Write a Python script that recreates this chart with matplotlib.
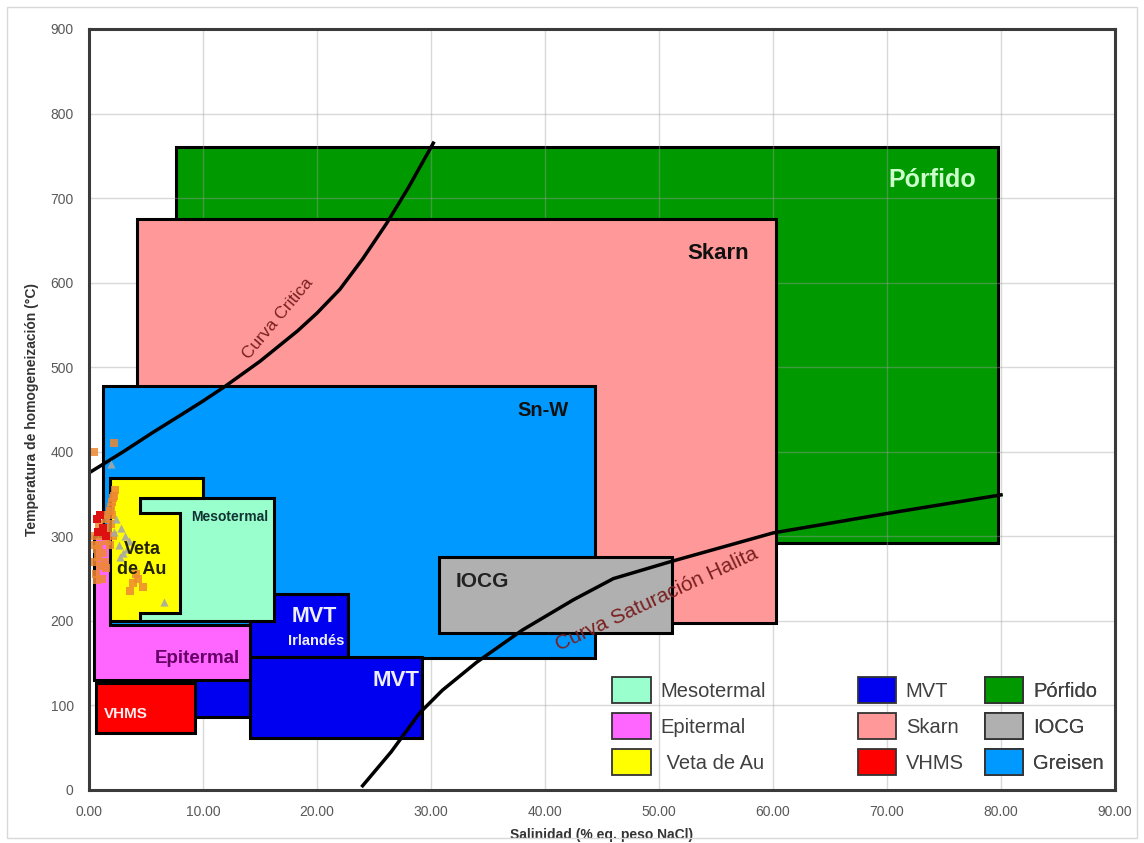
import matplotlib
matplotlib.use('Agg')
import matplotlib.pyplot as plt
from matplotlib.patches import Rectangle, Polygon, Patch
from matplotlib import font_manager

names = {f.name for f in font_manager.fontManager.ttflist}
tick_font = 'Liberation Sans Narrow' if 'Liberation Sans Narrow' in names else 'Liberation Sans'
plt.rcParams['font.family'] = ['Liberation Sans', 'DejaVu Sans']

# deposit fields: (x0, x1, y0, y1) in salinity / temperature
porfido = (7.6, 79.7, 292, 760)
skarn = (4.2, 60.3, 197, 675)
greisen = (1.2, 44.4, 156, 478)
iocg = (30.7, 51.1, 186, 275)
mvt_low = (8.9, 16.0, 86, 160)
mvt_irl = (14.1, 22.7, 157, 232)
mvt = (14.1, 29.2, 61, 157)
mesotermal = (4.5, 16.2, 200, 345)
vhms = (0.6, 9.3, 67, 127)
epitermal_x = [0.4, 14.1, 14.1, 1.8, 1.8, 0.4]
epitermal_y = [130, 130, 195, 195, 300, 300]
veta_x = [1.8, 4.5, 4.5, 8.0, 8.0, 4.5, 4.5, 10.0, 10.0, 1.8]
veta_y = [200, 200, 209, 209, 328, 328, 345, 345, 369, 369]

# curves
critica_x = [0, 3, 5.5, 8, 10, 11.9, 15, 18.3, 20, 22, 24, 26.1, 28, 30.2]
critica_y = [375, 400, 422, 443, 460, 477, 507, 543, 564, 592, 628, 670, 712, 765]
halita_x = [24, 26.5, 29, 31, 34, 38, 42.5, 46, 51, 60, 70, 80]
halita_y = [5, 45, 91, 118, 151, 189, 225, 250, 270, 304, 327, 349]

# fluid inclusion data
orange_x = [0.4, 2.2, 2.3, 2.0, 2.2, 1.9, 1.8, 1.5, 1.3, 1.1, 0.9, 1.6, 1.2, 0.8, 1.0, 1.4,
            2.1, 1.7, 0.7, 0.5, 0.6, 1.9, 2.0, 1.3, 0.9, 0.4, 0.5, 1.5, 1.1, 0.7, 1.8, 2.1,
            3.9, 4.3, 4.7, 3.6, 4.1]
orange_y = [400, 410, 355, 340, 348, 335, 330, 320, 310, 300, 290, 295, 280, 275, 265, 270,
            345, 305, 285, 270, 255, 315, 325, 325, 315, 290, 300, 262, 250, 248, 290, 300,
            245, 250, 240, 235, 255]
gray_x = [1.9, 2.4, 2.8, 3.2, 2.6, 3.0, 3.5, 2.2, 2.7, 3.3, 6.6]
gray_y = [386, 320, 310, 300, 290, 280, 295, 305, 275, 285, 222]
red_x = [0.7, 1.0, 1.2, 1.5, 0.8]
red_y = [320, 325, 310, 300, 305]

xticks = [0, 10, 20, 30, 40, 50, 60, 70, 80, 90]
yticks = [0, 100, 200, 300, 400, 500, 600, 700, 800, 900]

colors = {
    'Pórfido': '#009900', 'Skarn': '#FF9999', 'Greisen': '#0099FF',
    'IOCG': '#B0B0B0', 'MVT': '#0000F0', 'Mesotermal': '#99FFCC',
    'Epitermal': '#FF66FF', 'VHMS': '#FF0000', 'Veta de Au': '#FFFF00',
}

fig = plt.figure(figsize=(11.44, 8.43), dpi=100)
ax = fig.add_axes([0.0778, 0.0629, 0.8969, 0.9027])
fig.patches.append(Rectangle((0.006, 0.006), 0.988, 0.986, transform=fig.transFigure,
                             fill=False, edgecolor='#D9D9D9', linewidth=1))


def box(b, color, z):
    ax.add_patch(Rectangle((b[0], b[2]), b[1] - b[0], b[3] - b[2], facecolor=color,
                           edgecolor='black', linewidth=2.2, zorder=z))


box(porfido, colors['Pórfido'], 2)
box(skarn, colors['Skarn'], 3)
box(greisen, colors['Greisen'], 4)
box(iocg, colors['IOCG'], 5)
box(mvt_low, colors['MVT'], 5)
box(mvt_irl, colors['MVT'], 6)
box(mvt, colors['MVT'], 6)
box(mesotermal, colors['Mesotermal'], 7)
ax.add_patch(Polygon(list(zip(epitermal_x, epitermal_y)), closed=True, facecolor=colors['Epitermal'],
                     edgecolor='black', linewidth=2.2, zorder=7))
box(vhms, colors['VHMS'], 8)
ax.add_patch(Polygon(list(zip(veta_x, veta_y)), closed=True, facecolor=colors['Veta de Au'],
                     edgecolor='black', linewidth=2.2, zorder=8))

ax.plot(critica_x, critica_y, color='black', linewidth=2.5, zorder=10, solid_joinstyle='round')
ax.plot(halita_x, halita_y, color='black', linewidth=2.5, zorder=10, solid_joinstyle='round')

ax.scatter(orange_x, orange_y, marker='s', s=30, color='#EE8833', alpha=0.85, linewidths=0, zorder=11)
ax.scatter(gray_x, gray_y, marker='^', s=35, color='#A8A8A8', alpha=0.9, linewidths=0, zorder=11)
ax.scatter(red_x, red_y, marker='s', s=30, color='#DD1111', linewidths=0, zorder=11)

# field labels
bold = dict(fontweight='bold', ha='center', va='center', zorder=12)
ax.text(74.0, 721, 'Pórfido', fontsize=18, color='#CCFFCC', **bold)
ax.text(55.2, 635, 'Skarn', fontsize=16, color='#111111', **bold)
ax.text(39.8, 449, 'Sn-W', fontsize=14.5, color='#111111', **bold)
ax.text(34.5, 246, 'IOCG', fontsize=15, color='#222222', **bold)
ax.text(19.8, 205, 'MVT', fontsize=15.5, color='#EEEEFF', **bold)
ax.text(19.9, 176, 'Irlandés', fontsize=10.5, color='#EEEEFF', **bold)
ax.text(26.9, 129, 'MVT', fontsize=16, color='#EEEEFF', **bold)
ax.text(9.5, 155, 'Epitermal', fontsize=13.5, color='#660066', **bold)
ax.text(3.2, 90, 'VHMS', fontsize=11, color='#FFEEEE', **bold)
ax.text(12.3, 323, 'Mesotermal', fontsize=10, color='#113333', **bold)
ax.text(4.65, 273, 'Veta\nde Au', fontsize=13, color='#222200', linespacing=1.25, **bold)

ax.text(16.6, 557, 'Curva Critica', fontsize=12.5, color='#7A2020', rotation=50,
        ha='center', va='center', zorder=12)
ax.text(49.8, 225, 'Curva Saturación Halita', fontsize=15, color='#7A2020', rotation=25,
        ha='center', va='center', zorder=12)

# legend in three columns
def legend(labels, x, pads):
    handles = [Patch(facecolor=colors[l], edgecolor='#333333', linewidth=1.3) for l in labels]
    leg = ax.legend(handles, [p + l for l, p in zip(labels, pads)], loc='upper left',
                    bbox_to_anchor=(x, 0.1485), frameon=False, fontsize=14.5,
                    handlelength=1.9, handleheight=1.61, handletextpad=0.5,
                    labelspacing=0.5, borderpad=0, borderaxespad=0,
                    labelcolor='#404040')
    leg.set_zorder(13)
    ax.add_artist(leg)


legend(['Mesotermal', 'Epitermal', 'Veta de Au'], 0.51, ['', '', ' '])
legend(['MVT', 'Skarn', 'VHMS'], 0.749, ['', '', ''])
legend(['Pórfido', 'IOCG', 'Greisen'], 0.873, ['', '', ''])

ax.set_xlim(0, 90)
ax.set_ylim(0, 900)
ax.set_xticks(xticks)
ax.set_yticks(yticks)
ax.set_xticklabels([f'{v:.2f}' for v in xticks], fontfamily=tick_font, fontsize=10, color='#595959')
ax.set_yticklabels([str(v) for v in yticks], fontfamily=tick_font, fontsize=10, color='#595959')
ax.tick_params(length=0, pad=11)
ax.grid(True, color='#A0A0A0', alpha=0.4, linewidth=1)
ax.set_axisbelow(False)
for line in ax.get_xgridlines() + ax.get_ygridlines():
    line.set_zorder(9)
for s in ax.spines.values():
    s.set_linewidth(2.2)
    s.set_color('#3A3A3A')
    s.set_zorder(14)

ax.set_xlabel('Salinidad (% eq. peso NaCl)', fontfamily=tick_font, fontsize=10,
              fontweight='bold', color='#333333', labelpad=6)
ax.set_ylabel('Temperatura de homogeneización (°C)', fontfamily=tick_font, fontsize=10,
              fontweight='bold', color='#333333', labelpad=8)

fig.savefig('out.png', dpi=100)
